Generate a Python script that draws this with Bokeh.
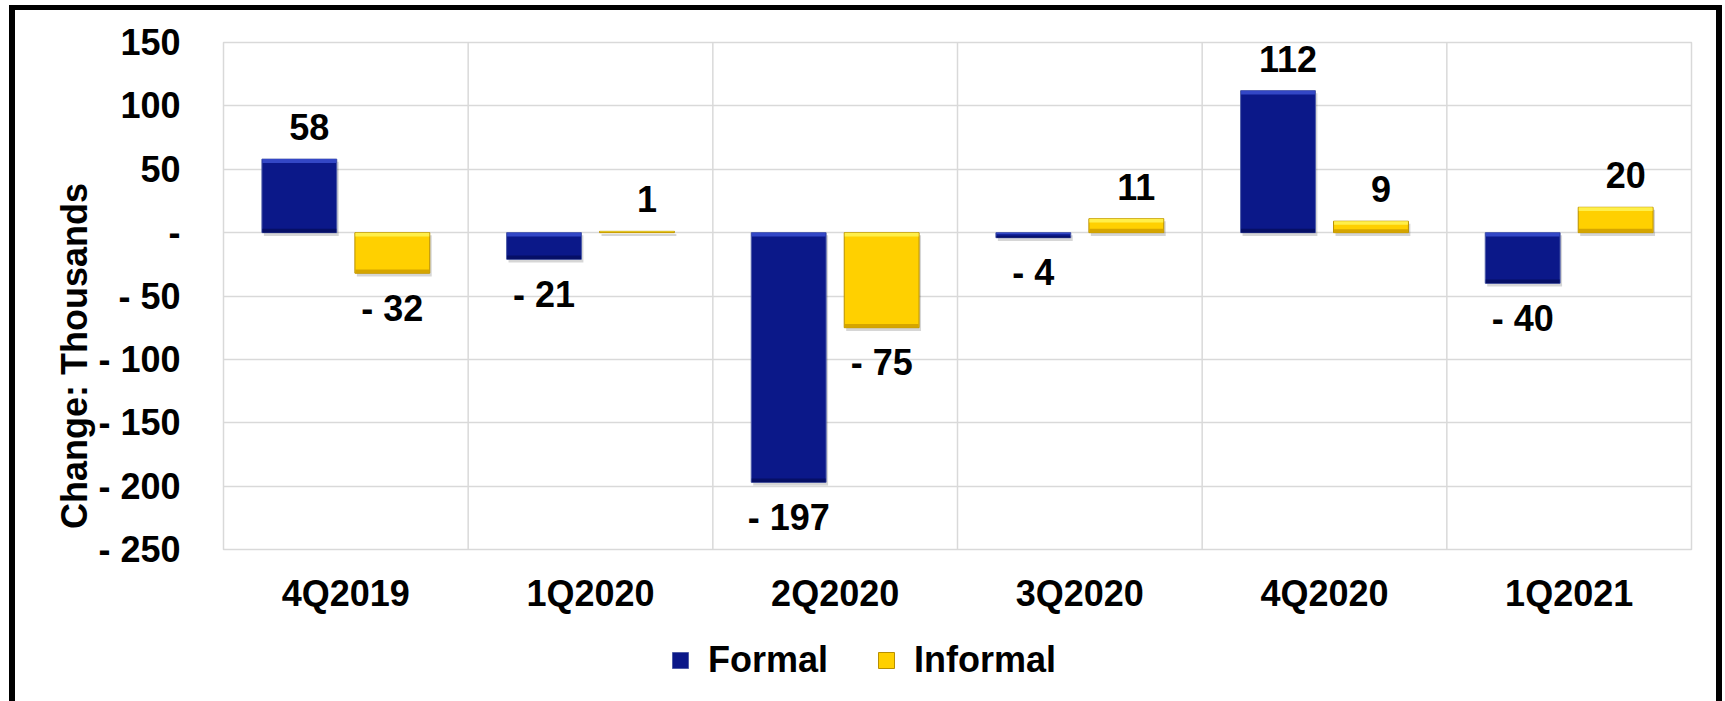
import numpy as np
from bokeh.plotting import figure
from bokeh.layouts import column
from bokeh.models import (ColumnDataSource, FactorRange, Range1d, FixedTicker,
                          Legend, LegendItem)
from bokeh.transform import dodge
from bokeh.embed import file_html
from bokeh.resources import INLINE
from bokeh.core.properties import value

# Quarterly change in employment (thousands)
quarters = ["4Q2019", "1Q2020", "2Q2020", "3Q2020", "4Q2020", "1Q2021"]
formal = [58, -21, -197, -4, 112, -40]
informal = [-32, 1, -75, 11, 9, 20]
y_ticks = [-250, -200, -150, -100, -50, 0, 50, 100, 150]


def fmt(v):
    """Accounting-style label: '- 32' for negatives, '-' for zero."""
    if v > 0:
        return f"{v:,}"
    if v < 0:
        return f"- {-v:,}"
    return "-"


FONT = "Liberation Sans"
GRID = "#D9D9D9"
BAR_W = 0.306

p = figure(
    x_range=FactorRange(*quarters),
    y_range=Range1d(-250, 150),
    frame_width=1468, frame_height=507,
    min_border_left=208, min_border_right=25,
    min_border_top=32, min_border_bottom=82,
    output_backend="svg", toolbar_location=None,
)
p.outline_line_color = GRID
p.outline_line_width = 1.5

# horizontal grid
p.ygrid.ticker = FixedTicker(ticks=y_ticks)
p.ygrid.grid_line_color = GRID
p.ygrid.grid_line_width = 1.5
p.xgrid.visible = False

# vertical separators between quarters
sep = ColumnDataSource(dict(q=quarters[1:]))
p.segment(x0=dodge("q", -0.5, range=p.x_range), x1=dodge("q", -0.5, range=p.x_range),
          y0=p.y_range.start, y1=p.y_range.end, source=sep,
          line_color=GRID, line_width=1.5, level="underlay")

series = [
    ("Formal", formal, -0.19,
     dict(main="#0B1889", top="#3347C6", bottom="#060F66", edge="#4F5DA8")),
    ("Informal", informal, 0.19,
     dict(main="#FFD000", top="#FFEF4A", bottom="#D5A500", edge="#B88F00")),
]

# legend strip drawn under the chart
leg_fig = figure(
    width=1701, height=70, x_range=Range1d(0, 1), y_range=Range1d(0, 1),
    x_axis_type=None, y_axis_type=None, min_border=0,
    output_backend="svg", toolbar_location=None,
)
leg_fig.grid.visible = False
leg_fig.outline_line_color = None

legend_items = []
for name, vals, off, col in series:
    v = np.array(vals, dtype=float)
    top = np.maximum(v, 0)
    bot = np.minimum(v, 0)
    bev = np.minimum(3.0, np.abs(v) * 0.3)
    src = ColumnDataSource(dict(
        q=quarters, v=v, top=top, bot=bot,
        sh_top=top - 2.0, sh_bot=bot - 2.6,
        tb_bot=top - bev, bb_top=bot + bev,
        lbl=[fmt(x) for x in vals],
        xo=np.where(v > 0, 10, 0), yo=np.where(v >= 0, -32, 35),
    ))
    xs = dodge("q", off, range=p.x_range)
    xs_sh = dodge("q", off + 0.008, range=p.x_range)
    # soft drop shadow
    p.vbar(x=xs_sh, top="sh_top", bottom="sh_bot", width=BAR_W, source=src,
           fill_color="black", fill_alpha=0.16, line_color=None)
    p.vbar(x=xs, top="top", bottom="bot", width=BAR_W, source=src,
           fill_color=col["main"], line_color=col["edge"], line_width=1)
    # bevel highlights
    p.vbar(x=xs, top="top", bottom="tb_bot", width=BAR_W - 0.004, source=src,
           fill_color=col["top"], line_color=None)
    p.vbar(x=xs, top="bb_top", bottom="bot", width=BAR_W - 0.004, source=src,
           fill_color=col["bottom"], line_color=None)
    p.text(x=xs, y="v", text="lbl", source=src, x_offset="xo", y_offset="yo",
           text_align="center", text_baseline="middle",
           text_font=value(FONT), text_font_style="bold",
           text_font_size="36px", text_color="black")
    # swatch renderer for the legend strip (a zero-size bar kept off-canvas)
    sw = leg_fig.vbar(x=[-1], top=[0], bottom=[0], width=0,
                      fill_color=col["main"], line_color=col["edge"], line_width=1)
    legend_items.append(LegendItem(label=name, renderers=[sw]))

# axes
for ax in (p.xaxis[0], p.yaxis[0]):
    ax.axis_line_color = None
    ax.major_tick_line_color = None
    ax.minor_tick_line_color = None
    ax.major_label_text_font = FONT
    ax.major_label_text_font_style = "bold"
    ax.major_label_text_font_size = "36px"
    ax.major_label_text_color = "black"

p.yaxis.ticker = FixedTicker(ticks=y_ticks)
p.yaxis.major_label_overrides = {t: fmt(t) for t in y_ticks}
p.yaxis.major_label_standoff = 37
p.xaxis.major_label_standoff = 17

# axis title; trailing no-break spaces move the visible words lower
p.yaxis.axis_label = "Change: Thousands" + "\u00a0" * 12
p.yaxis.axis_label_standoff = 0
p.yaxis.axis_label_text_font = FONT
p.yaxis.axis_label_text_font_style = "bold"
p.yaxis.axis_label_text_font_size = "36px"
p.yaxis.axis_label_text_color = "black"

legend = Legend(
    items=legend_items, orientation="horizontal",
    location=(447, 20),
    glyph_width=20, glyph_height=20, label_standoff=18, spacing=48,
    padding=0, margin=0,
    label_text_font=FONT, label_text_font_style="bold",
    label_text_font_size="36px", label_text_color="black",
    border_line_color=None, background_fill_alpha=0,
)
leg_fig.add_layout(legend)

chart = column(p, leg_fig, spacing=0, styles={
    "border-left": "6px solid #000",
    "border-top": "5px solid #000",
    "border-right": "6px solid #000",
    "margin-left": "9px",
    "margin-top": "5px",
})

open("out.html", "w").write(file_html(chart, INLINE))
